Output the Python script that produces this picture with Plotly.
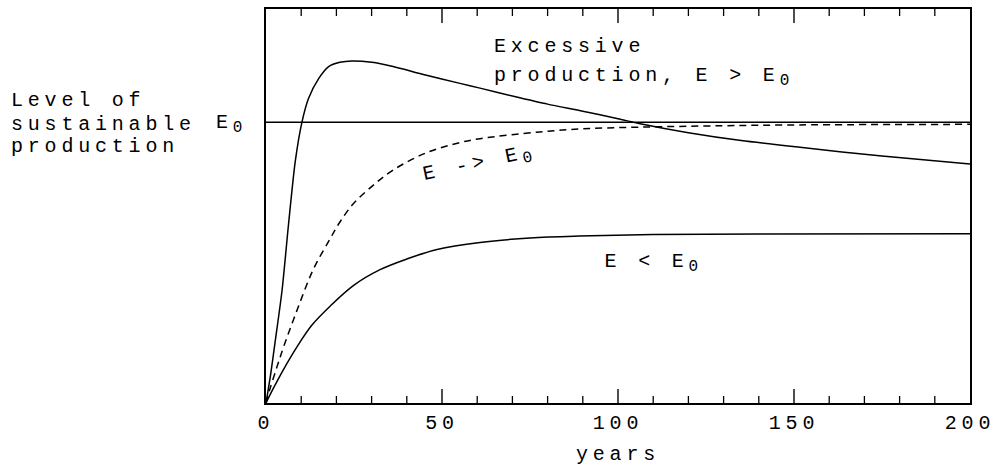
import plotly.graph_objects as go

# ---- data ----
years_excess = [0, 1.3, 2.65, 4.55, 6.4, 8.3, 10.2, 12.1, 15, 17.8, 21, 24.4, 30.1, 36.1,
                45, 55.1, 60.8, 70, 80, 90, 100, 106.3, 120, 135, 151.7, 175, 200]
level_excess = [0, 0.10, 0.223, 0.40, 0.637, 0.86, 1.0, 1.086, 1.157, 1.199, 1.214, 1.219,
                1.214, 1.199, 1.17, 1.139, 1.122, 1.094, 1.065, 1.04, 1.013, 0.995,
                0.963, 0.935, 0.911, 0.88, 0.852]

years_approach = [0, 1, 3.1, 5, 8.8, 13.4, 18.2, 21, 24.8, 30.1, 36.1, 45.6, 55.1, 60.8, 77.8,
                  90, 106, 130, 151.7, 200]
level_approach = [0, 0.045, 0.128, 0.20, 0.33, 0.475, 0.585, 0.645, 0.71, 0.772, 0.83, 0.892,
                  0.928, 0.942, 0.966, 0.977, 0.983, 0.988, 0.991, 0.993]

years_under = [0, 2, 5, 8.8, 13, 18.2, 25, 32.4, 40, 48.6, 60.8, 75, 89, 110, 140, 200]
level_under = [0, 0.05, 0.12, 0.2, 0.277, 0.345, 0.42, 0.475, 0.513, 0.547, 0.572, 0.588,
               0.595, 0.6, 0.602, 0.603]

E0 = 1.0
x_range = [0, 200]
major_ticks = [0, 50, 100, 150, 200]
tick_labels = ["0", "50", "100", "150", "200"]
minor_ticks = [10, 20, 30, 40, 60, 70, 80, 90, 110, 120, 130, 140, 160, 170, 180, 190]

FONT = "Liberation Mono"
FS = 20

fig = go.Figure()
fig.add_trace(go.Scatter(x=x_range, y=[E0, E0], mode="lines",
                         line=dict(color="black", width=1.5), showlegend=False))
fig.add_trace(go.Scatter(x=years_excess, y=level_excess, mode="lines",
                         line=dict(color="black", width=1.5, shape="spline", smoothing=0.7),
                         showlegend=False))
fig.add_trace(go.Scatter(x=years_approach, y=level_approach, mode="lines",
                         line=dict(color="black", width=1.5, dash="7px,5px", shape="spline",
                                   smoothing=1.0),
                         showlegend=False))
fig.add_trace(go.Scatter(x=years_under, y=level_under, mode="lines",
                         line=dict(color="black", width=1.5, shape="spline", smoothing=1.0),
                         showlegend=False))

SUB0 = "<sub><span style='font-size:16px'>0</span></sub>"

def ann(text, x, y, angle=0, anchor="center"):
    fig.add_annotation(text=text, x=x, y=y, xref="paper", yref="paper",
                       xanchor=anchor, yanchor="middle", align=anchor, showarrow=False,
                       textangle=angle, borderpad=0,
                       font=dict(family=FONT, size=FS, color="black"))

ann("Excessive", 0.3224, 0.904, anchor="left")
ann("production, E &gt; E" + SUB0, 0.3224, 0.828, anchor="left")
ann("Level of", -0.3636, 0.768, anchor="left")
ann("sustainable", -0.3636, 0.707, anchor="left")
ann("production", -0.3636, 0.652, anchor="left")
ann("E" + SUB0, -0.0724, 0.708, anchor="left")
ann("E -&gt; E" + SUB0, 0.304, 0.606, angle=-12)
ann("E &lt; E" + SUB0, 0.551, 0.356)
ann("years", 0.5, -0.131)

# inside tick marks on bottom and top edges (pixel lengths, data x positions)
def tick(xv, length, width):
    fig.add_shape(type="line", xref="x", yref="paper", ysizemode="pixel", yanchor=0,
                  x0=xv, x1=xv, y0=0, y1=length, line=dict(color="black", width=width))
    fig.add_shape(type="line", xref="x", yref="paper", ysizemode="pixel", yanchor=1,
                  x0=xv, x1=xv, y0=0, y1=-length, line=dict(color="black", width=width))

for t in major_ticks[1:-1]:
    tick(t, 14, 1.4)
for t in minor_ticks:
    tick(t, 7, 1.3)

fig.update_layout(
    width=1003, height=468,
    margin=dict(l=266, r=33, t=7, b=65),
    paper_bgcolor="white", plot_bgcolor="white",
    font=dict(family=FONT, size=FS, color="black"),
    xaxis=dict(range=x_range, tickmode="array", tickvals=major_ticks, ticktext=tick_labels,
               ticks="", showline=True, linecolor="black", linewidth=1.5, mirror=True,
               showgrid=False, zeroline=False,
               tickfont=dict(family=FONT, size=FS, color="black")),
    yaxis=dict(range=[0, 1.404], showticklabels=False, ticks="", showline=True,
               linecolor="black", linewidth=1.5, mirror=True, showgrid=False,
               zeroline=False),
)

post = ("var s=document.createElement('style');"
        "s.textContent='html,body{margin:0;padding:0;overflow:hidden;}"
        " .annotation-text, .xtick text {letter-spacing:4.8px;}';"
        "document.head.appendChild(s);")
fig.write_html("out.html", post_script=post, config={"displayModeBar": False})
